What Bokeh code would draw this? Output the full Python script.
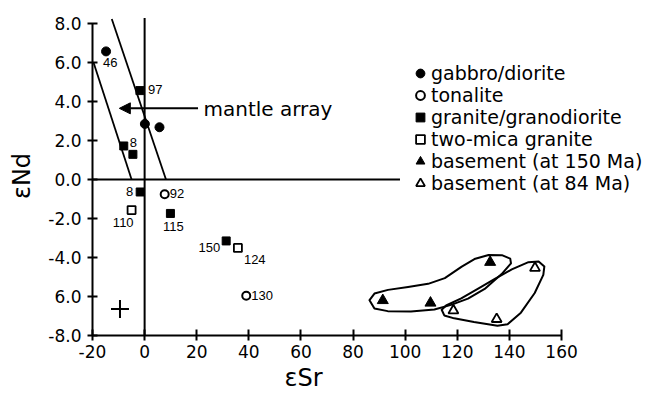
from bokeh.plotting import figure
from bokeh.models import (Range1d, FixedTicker, Legend, LegendItem, Arrow, Title,
                          NormalHead, ColumnDataSource)
from bokeh.core.properties import value
from bokeh.embed import file_html
from bokeh.resources import INLINE

# ---------------- data (eSr, eNd) ----------------
gabbro_sr = [-14.8, 0.1, 5.7]
gabbro_nd = [6.57, 2.85, 2.68]
tonalite_sr = [7.7, 39.0]
tonalite_nd = [-0.76, -5.96]
granite_sr = [-1.8, -8.0, -4.5, -1.7, 9.9, 31.3]
granite_nd = [4.56, 1.72, 1.29, -0.64, -1.74, -3.15]
twomica_sr = [-5.0, 35.8]
twomica_nd = [-1.57, -3.51]
base150_sr = [91.4, 109.7, 132.6]
base150_nd = [-6.20, -6.33, -4.24]
base84_sr = [118.5, 135.1, 149.8]
base84_nd = [-6.72, -7.16, -4.54]

# sample numbers written beside points: (label, series, index)
sample_labels = ["46", "97", "8", "8", "92", "110", "115", "150", "124", "130"]
sample_series = ["gabbro", "granite", "granite", "granite", "tonalite",
                 "twomica", "granite", "granite", "twomica", "tonalite"]
sample_index = [0, 0, 1, 3, 0, 0, 4, 5, 1, 1]

# mantle array bounding lines
mantle_left_sr = [-19.6, -5.0]
mantle_left_nd = [6.0, 0.0]
mantle_right_sr = [-12.6, 8.2]
mantle_right_nd = [8.23, 0.0]
# reference lines eNd = 0 and eSr = 0
zero_nd_line_sr = [-20.0, 98.0]
zero_nd_line_nd = [0.0, 0.0]
zero_sr_line_sr = [0.0, 0.0]
zero_sr_line_nd = [-8.0, 8.28]

# arrow to mantle array
arrow_tail = (20.5, 3.65)
arrow_head = (-9.7, 3.65)
mantle_label = "mantle array"
mantle_label_pos = (22.6, 3.6)

# analytical error cross
err_sr = [-9.45]
err_nd = [-6.64]
err_dsr = [3.45]
err_dnd = [0.46]

# envelopes around basement samples
outline150_sr = [86.3, 88.2, 93.4, 101.1, 108.8, 115.2, 121.7, 126.9, 132.0, 137.1,
                 140.3, 140.6, 137.0, 130.5, 124.1, 117.6, 111.2, 102.2, 93.3, 88.2]
outline150_nd = [-6.19, -5.85, -5.66, -5.51, -5.35, -5.06, -4.47, -4.06, -3.87, -3.88,
                 -4.06, -4.30, -4.85, -5.61, -6.11, -6.43, -6.67, -6.77, -6.75, -6.62]
outline84_sr = [114.0, 115.7, 121.5, 128.0, 134.4, 140.9, 147.3, 151.2, 153.4, 153.0,
                149.7, 144.4, 139.3, 135.4, 126.4, 118.8, 115.0]
outline84_nd = [-6.68, -6.46, -6.10, -5.60, -5.10, -4.61, -4.24, -4.20, -4.46, -4.89,
                -5.82, -6.83, -7.42, -7.50, -7.31, -7.12, -6.97]

x_ticks = [-20, 0, 20, 40, 60, 80, 100, 120, 140, 160]
x_tick_labels = ["-20", "0", "20", "40", "60", "80", "100", "120", "140", "160"]
y_ticks = [-8, -6, -4, -2, 0, 2, 4, 6, 8]
y_tick_labels = ["-8.0", "6.0", "-4.0", "-2.0", "0.0", "2.0", "4.0", "6.0", "8.0"]
x_title = "εSr"
y_title = "εNd"

legend_labels = ["gabbro/diorite", "tonalite", "granite/granodiorite",
                 "two-mica granite", "basement (at 150 Ma)", "basement (at 84 Ma)"]

# ---------------- style / layout ----------------
lab_align = ["left", "left", "left", "right", "left", "right", "center", "right", "left", "left"]
lab_base = ["top", "middle", "middle", "middle", "middle", "top", "top", "middle", "middle", "middle"]
lab_dx = [-3, 8, 6, -7, 5, 2, 3, -6, 6, 5]
lab_dy = [7, -1, -3, 0, -1, 8, 9, 7, 12, 0]
x_title_offset = 192  # px from the frame's left edge

FONT = "DejaVu Sans"
INK = "black"

p = figure(width=652, height=396, x_range=Range1d(-20, 194.9), y_range=Range1d(-8, 8.36),
           output_backend="svg", toolbar_location=None, title=None,
           min_border_left=92, min_border_right=0, min_border_top=16, min_border_bottom=61)
p.grid.visible = False
p.outline_line_color = None
p.background_fill_color = "white"
p.border_fill_color = "white"

# axes
for ax in (p.xaxis[0], p.yaxis[0]):
    ax.axis_line_width = 2
    ax.axis_line_color = INK
    ax.major_tick_line_width = 2
    ax.major_tick_line_color = INK
    ax.minor_tick_line_color = None
    ax.major_tick_out = 5
    ax.major_label_text_font = FONT
    ax.major_label_text_font_size = "17px"
    ax.major_label_text_color = INK

p.xaxis.ticker = FixedTicker(ticks=x_ticks)
p.xaxis.major_label_overrides = {t: s for t, s in zip(x_ticks, x_tick_labels)}
p.xaxis.bounds = (x_ticks[0], x_ticks[-1])
p.xaxis.major_tick_in = 6
p.xaxis.major_label_standoff = 4

p.yaxis.ticker = FixedTicker(ticks=y_ticks)
p.yaxis.major_label_overrides = {t: s for t, s in zip(y_ticks, y_tick_labels)}
p.yaxis.bounds = (y_ticks[0], y_ticks[-1])
p.yaxis.major_tick_in = 5
p.yaxis.major_label_standoff = 6
p.yaxis.axis_label = y_title
p.yaxis.axis_label_text_font = FONT
p.yaxis.axis_label_text_font_size = "24px"
p.yaxis.axis_label_text_font_style = "normal"
p.yaxis.axis_label_text_color = INK
p.yaxis.axis_label_standoff = 9

# x title placed below the axis, left of the frame centre as in the original
p.add_layout(Title(text=x_title, align="left", offset=x_title_offset, standoff=2,
                   text_font=FONT, text_font_size="24px", text_font_style="normal",
                   text_color=INK), "below")

# reference & mantle-array lines
p.line(zero_nd_line_sr, zero_nd_line_nd, line_color=INK, line_width=2)
p.line(zero_sr_line_sr, zero_sr_line_nd, line_color=INK, line_width=2)
p.line(mantle_left_sr, mantle_left_nd, line_color=INK, line_width=1.8)
p.line(mantle_right_sr, mantle_right_nd, line_color=INK, line_width=1.8)

p.add_layout(Arrow(end=NormalHead(size=11, fill_color=INK, line_color=INK),
                   x_start=arrow_tail[0], y_start=arrow_tail[1],
                   x_end=arrow_head[0], y_end=arrow_head[1],
                   line_color=INK, line_width=2))
p.text(x=[mantle_label_pos[0]], y=[mantle_label_pos[1]], text=[mantle_label],
       text_align="left", text_baseline="middle", text_font=value(FONT),
       text_font_size="20px", text_color=INK)

# error cross
p.segment(x0=[x - d for x, d in zip(err_sr, err_dsr)], y0=err_nd,
          x1=[x + d for x, d in zip(err_sr, err_dsr)], y1=err_nd,
          line_color=INK, line_width=2)
p.segment(x0=err_sr, y0=[y - d for y, d in zip(err_nd, err_dnd)],
          x1=err_sr, y1=[y + d for y, d in zip(err_nd, err_dnd)],
          line_color=INK, line_width=2)

# envelopes
p.patches(xs=[outline150_sr, outline84_sr], ys=[outline150_nd, outline84_nd],
          fill_color=None, line_color=INK, line_width=2, line_join="round")

# points
r_gab = p.scatter(gabbro_sr, gabbro_nd, marker="circle", size=9,
                  fill_color=INK, line_color=INK)
r_ton = p.scatter(tonalite_sr, tonalite_nd, marker="circle", size=8,
                  fill_color="white", line_color=INK, line_width=2)
r_gra = p.scatter(granite_sr, granite_nd, marker="square", size=8,
                  fill_color=INK, line_color=INK)
r_two = p.scatter(twomica_sr, twomica_nd, marker="square", size=8,
                  fill_color="white", line_color=INK, line_width=1.8)
r_b150 = p.scatter(base150_sr, base150_nd, marker="triangle", size=11,
                   fill_color=INK, line_color=INK)
r_b84 = p.scatter(base84_sr, base84_nd, marker="triangle", size=10,
                  fill_color="white", line_color=INK, line_width=1.8)

series = {"gabbro": (gabbro_sr, gabbro_nd), "tonalite": (tonalite_sr, tonalite_nd),
          "granite": (granite_sr, granite_nd), "twomica": (twomica_sr, twomica_nd)}
lab_src = ColumnDataSource(dict(
    x=[series[s][0][i] for s, i in zip(sample_series, sample_index)],
    y=[series[s][1][i] for s, i in zip(sample_series, sample_index)],
    text=sample_labels, align=lab_align, base=lab_base, dx=lab_dx, dy=lab_dy))
p.text(x="x", y="y", text="text", source=lab_src, text_align="align",
       text_baseline="base", x_offset="dx", y_offset="dy",
       text_font=value("Liberation Sans"), text_font_size="13px", text_color=INK)

legend = Legend(items=[LegendItem(label=l, renderers=[r]) for l, r in
                       zip(legend_labels, [r_gab, r_ton, r_gra, r_two, r_b150, r_b84])],
                location=(317, 141), padding=0, spacing=-2, glyph_width=22, glyph_height=22,
                label_height=22, label_standoff=-3, label_text_font=FONT,
                label_text_font_size="19px", label_text_color=INK,
                border_line_color=None, background_fill_alpha=0)
p.add_layout(legend)

open("out.html", "w").write(file_html(p, INLINE))
